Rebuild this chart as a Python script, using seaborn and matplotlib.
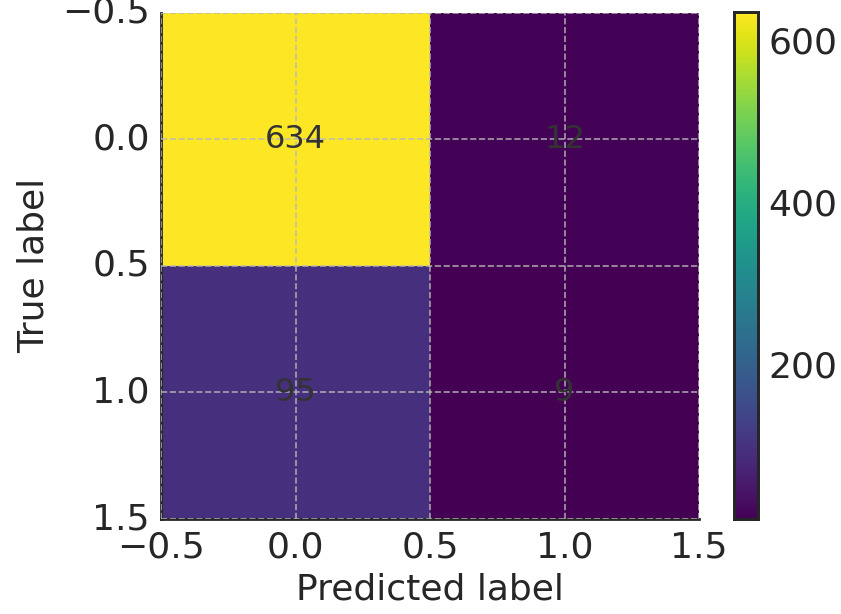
import numpy as np
import pandas as pd
import matplotlib
matplotlib.use("Agg")
import matplotlib.pyplot as plt
from matplotlib.ticker import MultipleLocator, FuncFormatter
import seaborn as sns

# Data
true_labels = [0, 1]
pred_labels = [0, 1]
counts = [[634, 12],
          [95, 9]]

sns.set_theme(style="white")
plt.rcParams['font.family'] = ['DejaVu Sans']
plt.rcParams['axes.unicode_minus'] = True

W, H = 841, 614
DPI = 200
fig = plt.figure(figsize=(W / DPI, H / DPI), dpi=DPI)

def box(l, t, r, b):
    return [l / W, 1 - b / H, (r - l) / W, (b - t) / H]

ax = fig.add_axes(box(161, 12.5, 699, 519))
cax = fig.add_axes(box(733.5, 12, 757.5, 519))

df = pd.DataFrame(counts, index=true_labels, columns=pred_labels)
sns.heatmap(df, cmap="viridis", ax=ax, cbar_ax=cax, annot=False,
            linewidths=0, square=False)

# annotations
for i in range(len(true_labels)):
    for j in range(len(pred_labels)):
        ax.text(j + 0.5, i + 0.5, str(counts[i][j]), ha="center", va="center",
                fontsize=11.5, color="#333333", zorder=4)

# axes look like matplotlib imshow with auto ticks
fmt = FuncFormatter(lambda v, p: f"{v - 0.5:.1f}".replace("-", "\u2212"))
for axis in (ax.xaxis, ax.yaxis):
    axis.set_major_locator(MultipleLocator(0.5))
    axis.set_major_formatter(fmt)
ax.set_xlim(0, 2)
ax.set_ylim(2, 0)
ax.tick_params(axis="both", direction="in", length=4.5, width=1.0,
               colors="#262626", labelsize=13, pad=4,
               labelrotation=0)
ax.tick_params(axis="y", labelrotation=0)
for s in ["left", "bottom"]:
    ax.spines[s].set_visible(True)
    ax.spines[s].set_color("#262626")
    ax.spines[s].set_linewidth(1.0)
for s in ["top", "right"]:
    ax.spines[s].set_visible(False)

ax.set_axisbelow(False)
ax.grid(True, linestyle="--", color="#b8b8b8", linewidth=0.6, alpha=0.85)

ax.set_xlabel("Predicted label", fontsize=13, color="#262626", labelpad=3)
ax.set_ylabel("True label", fontsize=13, color="#262626", labelpad=4)

# colorbar
cax.yaxis.set_major_locator(MultipleLocator(200))
cax.tick_params(direction="in", length=3.5, width=0.8, colors="#262626",
                labelsize=13, right=True, left=False, pad=4)
for s in cax.spines.values():
    s.set_visible(True)
    s.set_color("#262626")
    s.set_linewidth(1.0)
cax.set_frame_on(True)

fig.savefig("out.png", dpi=DPI)
